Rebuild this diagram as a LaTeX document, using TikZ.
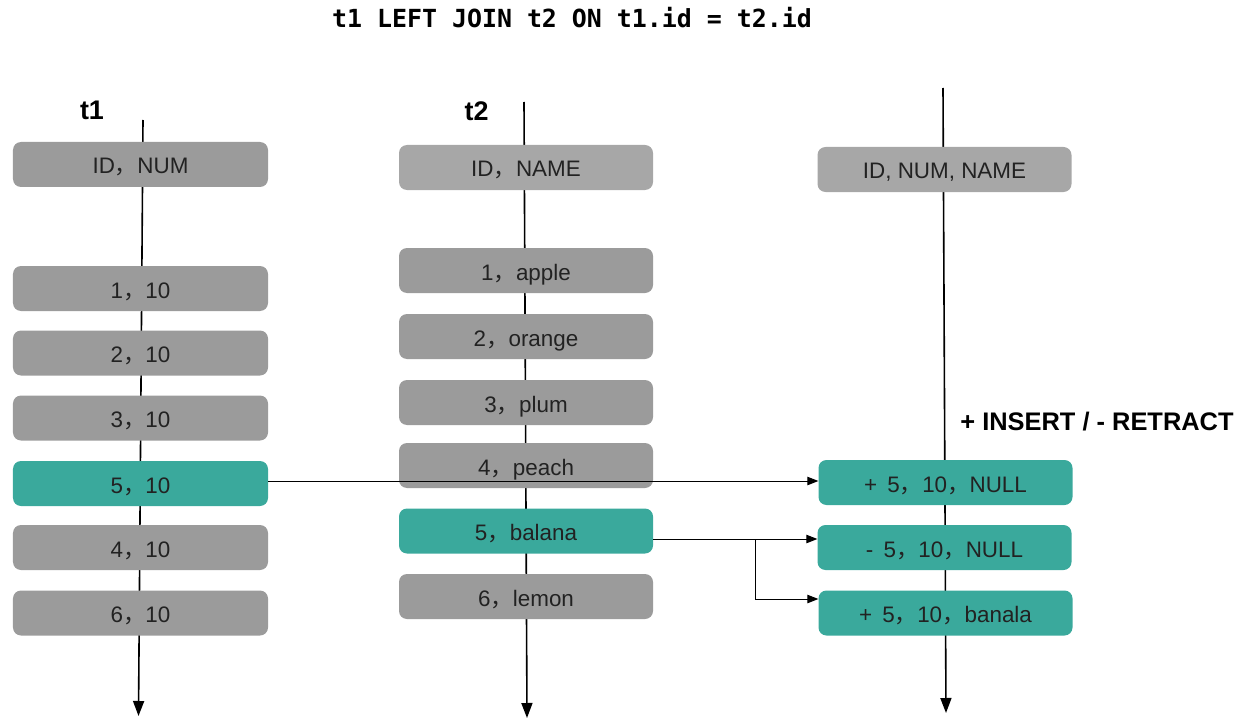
\documentclass[tikz,border=0pt]{standalone}
\usepackage{fontspec}
\setmainfont{Liberation Sans}
\newfontfamily\cjk{Noto Sans CJK SC}
\newfontfamily\titlefont{DejaVu Sans Mono}
\usetikzlibrary{arrows.meta,calc}
\definecolor{boxgray}{HTML}{9B9B9B}
\definecolor{boxlight}{HTML}{A7A7A7}
\definecolor{tealc}{HTML}{3AA99C}
\definecolor{txt}{HTML}{222222}
\newcommand{\fc}{{\cjk ，}}
\begin{document}
\begin{tikzpicture}[x=1bp,y=-1bp,
  box/.style={rounded corners=8bp, minimum width=255bp, minimum height=45bp,
    inner sep=0pt, text height=19bp, text depth=0bp, text=txt, font=\fontsize{22.5}{26}\selectfont},
  gbox/.style={box, fill=boxgray},
  lbox/.style={box, fill=boxlight},
  tbox/.style={box, fill=tealc},
  vline/.style={line width=1.6bp, -{Triangle[length=15bp,width=11bp]}},
  harrow/.style={line width=0.9bp, -{Triangle[length=11bp,width=8.5bp]}},
  lbl/.style={font=\fontsize{27}{32}\selectfont\bfseries, text=black, inner sep=0pt}]
\useasboundingbox (0,0) rectangle (1243,721);

% title and labels
\node[inner sep=0pt, font=\titlefont\fontsize{25}{30}\selectfont\bfseries] (title) at (572,18) {t1 LEFT JOIN t2 ON t1.id = t2.id};
\node[lbl] (lt1) at (92,110) {t1};
\node[lbl] (lt2) at (476.5,111) {t2};
\node[lbl, font=\fontsize{25.5}{30}\selectfont\bfseries] (lins) at (1097,421.5) {+ INSERT / - RETRACT};

% time lines (behind the boxes)
\coordinate (t1top) at (143,120);
\coordinate (t1bot) at (138.5,716);
\coordinate (t2top) at (524,102);
\coordinate (t2bot) at (527,718);
\coordinate (t3top) at (943,88);
\coordinate (t3bot) at (946,713);
\draw[vline] (t1top) -- (t1bot);
\draw[vline] (t2top) -- (t2bot);
\draw[vline] (t3top) -- (t3bot);

% t1
\node[gbox] (a0) at (140.5,164.5) {ID\fc NUM};
\node[gbox] (a1) at (140.5,288.5) {1\fc 10};
\node[gbox] (a2) at (140.5,353) {2\fc 10};
\node[gbox] (a3) at (140.5,418) {3\fc 10};
\node[tbox] (a5) at (140.5,483.5) {5\fc 10};
\node[gbox] (a4) at (140.5,547.5) {4\fc 10};
\node[gbox] (a6) at (140.5,613) {6\fc 10};

% t2
\node[lbox, minimum width=254bp] (b0) at (526,167.5) {ID\fc NAME};
\node[gbox, minimum width=254bp] (b1) at (526,270.5) {1\fc apple};
\node[gbox, minimum width=254bp] (b2) at (526,336.5) {2\fc orange};
\node[gbox, minimum width=254bp] (b3) at (526,402.5) {3\fc plum};
\node[gbox, minimum width=254bp] (b4) at (526,465.5) {4\fc peach};
\node[tbox, minimum width=254bp] (b5) at (526,531) {5\fc balana};
\node[gbox, minimum width=254bp] (b6) at (526,596.5) {6\fc lemon};

% result
\node[lbox, minimum width=254bp] (r0) at (944.5,169.5) {ID, NUM, NAME};
\node[tbox, minimum width=254bp] (r1) at (945.5,482.5) {+\hspace{4bp} 5\fc 10\fc NULL};
\node[tbox, minimum width=254bp] (r2) at (944.5,547.5) {-\hspace{4bp} 5\fc 10\fc NULL};
\node[tbox, minimum width=254bp] (r3) at (945.5,613) {+\hspace{4bp} 5\fc 10\fc banala};

% connectors
\coordinate (as) at ($(a5.east)+(0,-2.5)$);
\draw[harrow] (as) -- (as -| r1.west);
\coordinate (bs) at ($(b5.east)+(0,8)$);
\draw[harrow] (bs) -- (bs -| r2.west);
\coordinate (bj) at ($(bs)+(102,0)$);
\coordinate (bt) at ($(r3.west)+(0,-14)$);
\draw[harrow] (bj) |- (bt);
\end{tikzpicture}
\end{document}
